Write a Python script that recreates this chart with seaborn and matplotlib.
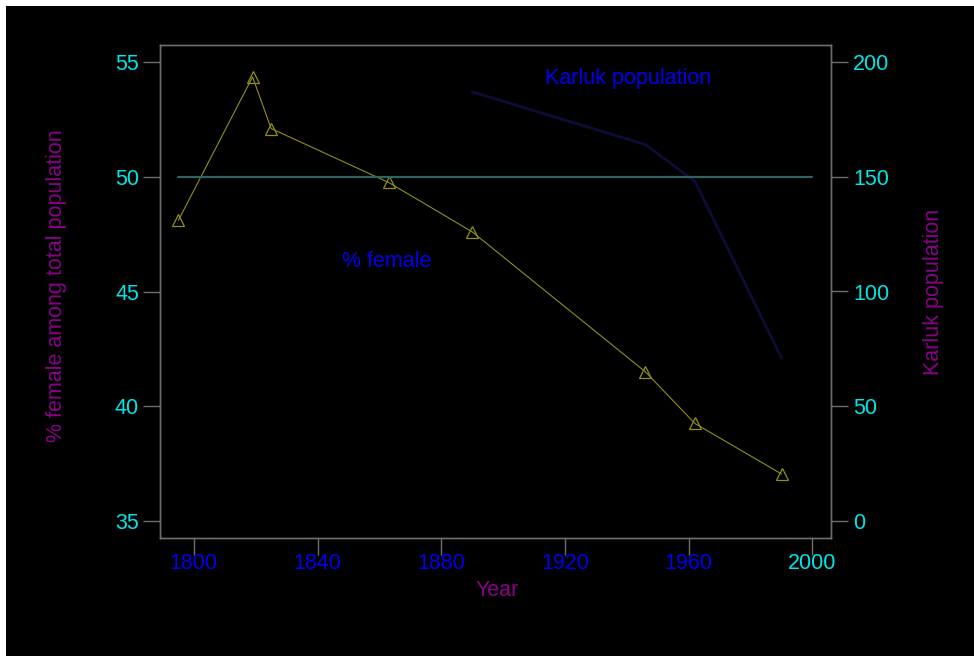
import numpy as np
import pandas as pd
import matplotlib
matplotlib.use("Agg")
import matplotlib.pyplot as plt
import seaborn as sns
from matplotlib.patches import Rectangle

# Data
female_years = [1795, 1819, 1825, 1863, 1890, 1946, 1962, 1990]
female_pct = [48.1, 54.35, 52.1, 49.75, 47.6, 41.5, 39.25, 37.05]

pop_years = [1890, 1946, 1962, 1990]
pop_count = [187, 164, 148, 71]

ref_years = [1795, 2000]
ref_level = [50, 50]

x_ticks = [1800, 1840, 1880, 1920, 1960, 2000]
left_ticks = [35, 40, 45, 50, 55]
right_ticks = [0, 50, 100, 150, 200]

# Colours
BG = "black"
FRAME = "#6e6e6e"
CYAN = "#00e5e5"
BLUE = "#0000ee"
PURPLE = "#8b008b"
OLIVE = "#8f8f1c"
TEAL = "#2f6262"
NAVY = "#0d0d3a"

sns.set_style("dark")
plt.rcParams["font.family"] = ["Liberation Sans", "DejaVu Sans"]
FS = 15.5

fig = plt.figure(figsize=(9.74, 6.56), dpi=100, facecolor="white")
fig.patches.append(Rectangle((6 / 974, 0), 1, 650 / 656, transform=fig.transFigure,
                             facecolor=BG, edgecolor="none", zorder=-10))

ax = fig.add_axes([159.8 / 974, 1 - 538 / 656, (831 - 159.8) / 974, 493 / 656])
ax.set_facecolor(BG)
ax.grid(False)

female = pd.DataFrame({"Year": female_years, "pct": female_pct})
ref = pd.DataFrame({"Year": ref_years, "pct": ref_level})
pop = pd.DataFrame({"Year": pop_years, "pop": pop_count})

ax2 = ax.twinx()
ax2.grid(False)

sns.lineplot(data=pop, x="Year", y="pop", ax=ax2, color=NAVY, lw=2.0)
sns.lineplot(data=female, x="Year", y="pct", ax=ax, color=OLIVE, lw=0.8,
             marker="^", markersize=8.5, markerfacecolor="none",
             markeredgecolor=OLIVE, markeredgewidth=0.9)
sns.lineplot(data=ref, x="Year", y="pct", ax=ax, color=TEAL, lw=1.6)

ax.set_zorder(ax2.get_zorder() + 1)
ax.patch.set_visible(False)
ax2.set_facecolor(BG)
ax2.patch.set_visible(True)

ylo, yhi = 34.26, 55.74
ax.set_xlim(1789, 2006)
ax.set_ylim(ylo, yhi)
ax2.set_ylim((ylo - 35) * 10, (yhi - 35) * 10)

ax.set_xticks(x_ticks)
ax.set_xticklabels([str(t) for t in x_ticks])
ax.set_yticks(left_ticks)
ax2.set_yticks(right_ticks)

for a in (ax, ax2):
    for s in a.spines.values():
        s.set_color(FRAME)
        s.set_linewidth(1.0)

ax.tick_params(axis="both", direction="out", length=12, width=1, color=FRAME,
               labelsize=FS)
ax.tick_params(axis="y", labelcolor=CYAN, pad=3, left=True)
ax.tick_params(axis="x", labelcolor=BLUE, pad=-1.5, bottom=True)
ax.get_xticklabels()[-1].set_color(CYAN)
ax2.tick_params(axis="y", direction="out", length=12, width=1, color=FRAME,
                labelcolor=CYAN, labelsize=FS, pad=4, right=True)

ax.set_xlabel("Year", color=PURPLE, fontsize=FS, va="center")
ax.xaxis.set_label_coords(0.503, (538 - 591) / 493)
ax.set_ylabel("% female among total population", color=PURPLE, fontsize=FS, va="center")
ax.yaxis.set_label_coords((57 - 159.8) / 671.2, 0.512)
ax2.set_ylabel("Karluk population", color=PURPLE, fontsize=FS, va="center")
ax2.yaxis.set_label_coords((934 - 159.8) / 671.2, 0.50)

ax.text(1940.4, 54.3, "Karluk population", color=BLUE, fontsize=FS,
        ha="center", va="center")
ax.text(1862.5, 46.3, "% female", color=BLUE, fontsize=FS,
        ha="center", va="center")

fig.savefig("out.png", dpi=100, facecolor=fig.get_facecolor())
